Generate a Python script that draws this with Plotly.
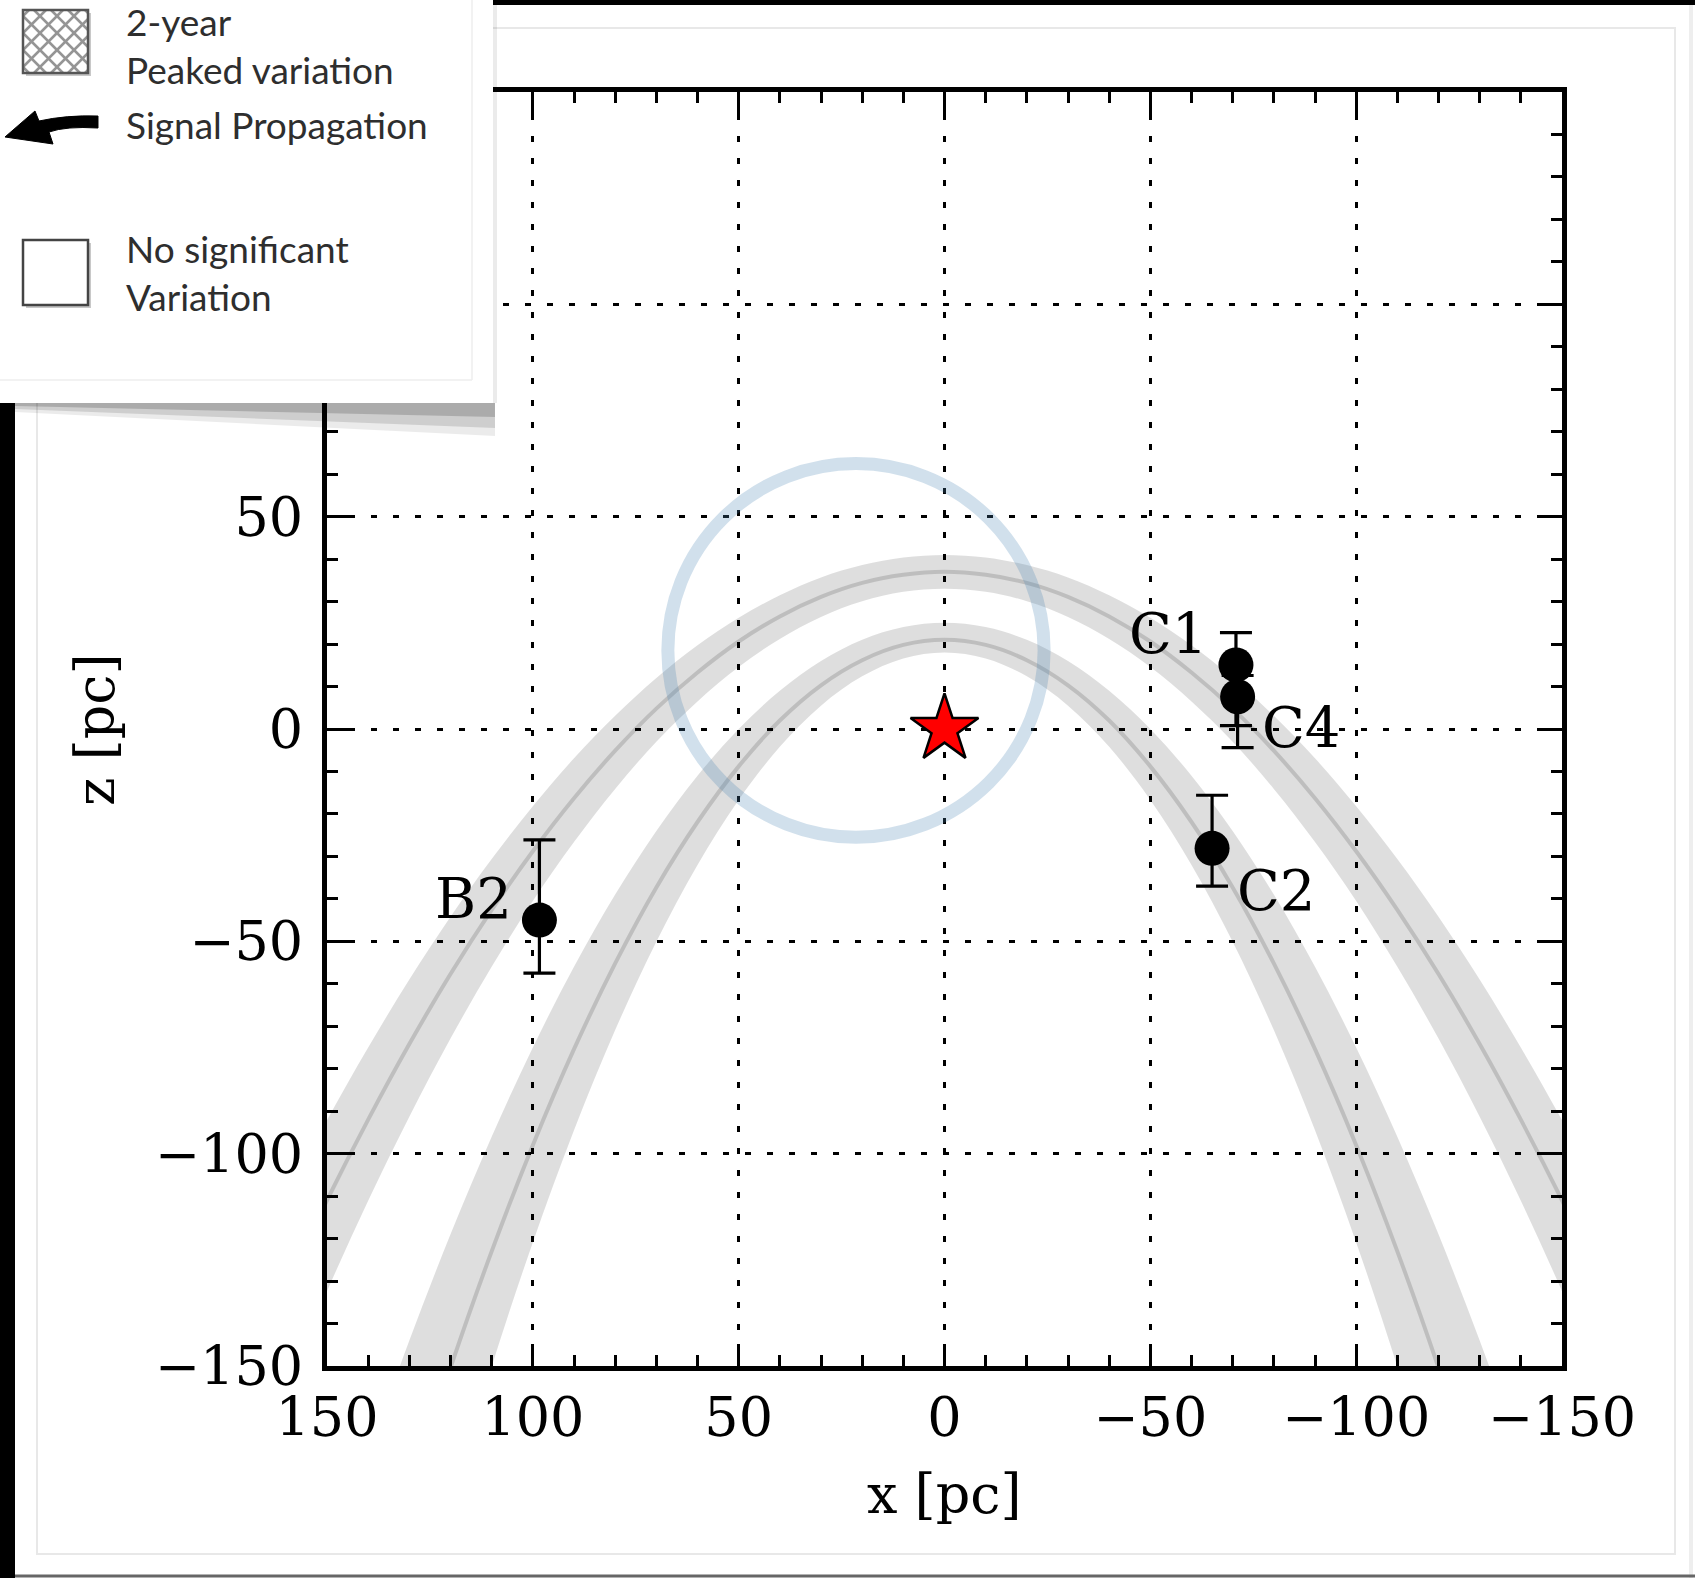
import plotly.graph_objects as go

# ---------------- data ----------------
x_grid = [-160, -150, -140, -130, -120, -110, -100, -90, -80, -70, -60, -50, -40, -30, -20, -10,
          0, 10, 20, 30, 40, 50, 60, 70, 80, 90, 100, 110, 120, 130, 140, 150, 160]

# outer (upper) propagation band: outer edge, centre line, inner edge
upper_outer = [-110.5, -92.1, -75.0, -59.0, -44.2, -30.6, -18.2, -6.9, 3.1, 12.0, 19.7, 26.2, 31.5, 35.7, 38.6, 40.4,
               41.0, 40.4, 38.6, 35.7, 31.5, 26.2, 19.7, 12.0, 3.1, -6.9, -18.2, -30.6, -44.2, -59.0, -75.0, -92.1, -110.5]
upper_center = [-131.4, -111.0, -92.0, -74.2, -57.7, -42.6, -28.8, -16.3, -5.1, 4.8, 13.3, 20.6, 26.5, 31.1, 34.4, 36.3,
                37.0, 36.3, 34.4, 31.1, 26.5, 20.6, 13.3, 4.8, -5.1, -16.3, -28.8, -42.6, -57.7, -74.2, -92.0, -111.0, -131.4]
upper_inner = [-155.2, -132.4, -111.1, -91.3, -72.9, -56.0, -40.5, -26.6, -14.1, -3.0, 6.5, 14.6, 21.2, 26.4, 30.1, 32.3,
               33.0, 32.3, 30.1, 26.4, 21.2, 14.6, 6.5, -3.0, -14.1, -26.6, -40.5, -56.0, -72.9, -91.3, -111.1, -132.4, -155.2]

# inner (lower) propagation band
lower_outer = [-231.0, -200.0, -171.0, -144.0, -119.0, -96.0, -75.0, -56.0, -39.0, -24.0, -11.0, 0.0, 9.0, 16.0, 21.0, 24.0,
               25.0, 24.0, 21.0, 16.0, 9.0, 0.0, -11.0, -24.0, -39.0, -56.0, -75.0, -96.0, -119.0, -144.0, -171.0, -200.0, -231.0]
lower_center = [-283.8, -246.9, -212.3, -180.2, -150.4, -123.0, -98.0, -75.4, -55.2, -37.3, -21.9, -8.8, 2.0, 10.3, 16.2, 19.8,
                21.0, 19.8, 16.2, 10.3, 2.0, -8.8, -21.9, -37.3, -55.2, -75.4, -98.0, -123.0, -150.4, -180.2, -212.3, -246.9, -283.8]
lower_inner = [-337.6, -294.5, -254.2, -216.7, -182.0, -150.1, -120.9, -94.5, -70.9, -50.1, -32.0, -16.7, -4.2, 5.5, 12.4, 16.6,
               18.0, 16.6, 12.4, 5.5, -4.2, -16.7, -32.0, -50.1, -70.9, -94.5, -120.9, -150.1, -182.0, -216.7, -254.2, -294.5, -337.6]

# clouds with error bars
cloud_names = ["B2", "C1", "C4", "C2"]
cloud_x = [98.4, -70.8, -71.2, -65.0]
cloud_z = [-45.0, 15.1, 7.6, -28.1]
cloud_err_plus = [18.9, 7.6, 5.0, 12.5]
cloud_err_minus = [12.5, 14.3, 12.0, 8.9]
label_x = [114.3, -54.3, -86.7, -80.6]
label_z = [-39.9, 22.6, 0.4, -38.1]

# star at origin
star_x = [0]
star_z = [0]

# circle
circle_cx, circle_cz = 21.5, 18.5
circle_rx, circle_rz = 45.7, 44.0

tick_vals = [150, 100, 50, 0, -50, -100, -150]
tick_text = ["150", "100", "50", "0", "\u221250", "\u2212100", "\u2212150"]

legend_texts = ["2-year<br>Peaked variation", "Signal Propagation", "No significant<br>Variation"]

# ---------------- layout geometry (pixels) ----------------
W, H = 1695, 1578
PL, PR, PT, PB = 327, 1562, 92, 1366


def pp(px, py):
    return (px - PL) / (PR - PL), (PB - py) / (PB - PT)


def path_from(points):
    s = ""
    for i, (px, py) in enumerate(points):
        x, y = pp(px, py)
        s += ("M" if i == 0 else "L") + f"{x:.5f},{y:.5f} "
    return s + "Z"


fig = go.Figure()

band_fill = "rgba(0,0,0,0.13)"
center_col = "rgba(0,0,0,0.14)"
for outer, center, inner in [(upper_outer, upper_center, upper_inner),
                             (lower_outer, lower_center, lower_inner)]:
    fig.add_trace(go.Scatter(x=x_grid + x_grid[::-1], y=outer + inner[::-1], fill="toself",
                             fillcolor=band_fill, mode="lines", line=dict(width=0, shape="spline"),
                             hoverinfo="skip"))
    fig.add_trace(go.Scatter(x=x_grid, y=center, mode="lines",
                             line=dict(color=center_col, width=4, shape="spline"), hoverinfo="skip"))

fig.add_trace(go.Scatter(x=cloud_x, y=cloud_z, mode="markers", text=cloud_names,
                         marker=dict(size=35, color="black"),
                         error_y=dict(type="data", symmetric=False, array=cloud_err_plus,
                                      arrayminus=cloud_err_minus, color="black", thickness=3.2, width=16)))

fig.add_trace(go.Scatter(x=star_x, y=star_z, mode="markers",
                         marker=dict(symbol="star", size=51, color="red", line=dict(color="black", width=2.5))))

shapes = []
shapes.append(dict(type="circle", xref="x", yref="y",
                   x0=circle_cx - circle_rx, x1=circle_cx + circle_rx,
                   y0=circle_cz - circle_rz, y1=circle_cz + circle_rz,
                   line=dict(color="rgba(70,130,180,0.25)", width=13), layer="above"))


def rect(x0, y0, x1, y1, fill=None, line_color=None, lw=0):
    a = pp(x0, y0)
    b = pp(x1, y1)
    d = dict(type="rect", xref="paper", yref="paper", x0=a[0], y0=a[1], x1=b[0], y1=b[1], layer="above")
    d["fillcolor"] = fill if fill else "rgba(0,0,0,0)"
    d["line"] = dict(color=line_color if line_color else "rgba(0,0,0,0)", width=lw)
    return d


def seg(x0, y0, x1, y1, color, lw):
    a = pp(x0, y0)
    b = pp(x1, y1)
    return dict(type="line", xref="paper", yref="paper", x0=a[0], y0=a[1], x1=b[0], y1=b[1],
                line=dict(color=color, width=lw), layer="above")


# slide frame decorations
shapes.append(rect(37, 28, 1675, 1554, line_color="#e8e8e8", lw=2))
shapes.append(seg(1691, 0, 1691, 1578, "#eeeeee", 4))
shapes.append(seg(0, 1576, 1695, 1576, "#666666", 3))
shapes.append(rect(493, 0, 1695, 5, fill="black"))
shapes.append(rect(0, 403, 15, 1578, fill="black"))

# legend shadow
for pts, col in [([(15, 403), (495, 403), (495, 436), (15, 412)], "rgba(0,0,0,0.08)"),
                 ([(15, 403), (495, 403), (495, 428), (15, 409)], "rgba(0,0,0,0.12)"),
                 ([(15, 403), (495, 403), (495, 417), (15, 406)], "rgba(0,0,0,0.17)")]:
    shapes.append(dict(type="path", xref="paper", yref="paper", path=path_from(pts),
                       fillcolor=col, line=dict(width=0), layer="above"))
shapes.append(rect(493, 0, 497, 403, fill="rgba(0,0,0,0.08)"))

# legend box
shapes.append(rect(0, 0, 493, 403, fill="white"))
shapes.append(seg(472, 0, 472, 380, "#eeeeee", 1.5))
shapes.append(seg(0, 380, 472, 380, "#eeeeee", 1.5))

# hatched square
hx0, hy0, hx1, hy1 = 23, 10, 88, 73
shapes.append(rect(hx0 + 3, hy0 + 3, hx1 + 3, hy1 + 3, fill="#c8c8c8"))
shapes.append(rect(hx0, hy0, hx1, hy1, fill="white"))
step = 17
d = hx0 - hy1 + 6
while d <= hx1 - hy0:
    xa, xb = max(hx0, hy0 + d), min(hx1, hy1 + d)
    if xb > xa:
        shapes.append(seg(xa, xa - d, xb, xb - d, "#959595", 2.5))
    d += step
s = hx0 + hy0 + 6
while s <= hx1 + hy1:
    xa, xb = max(hx0, s - hy1), min(hx1, s - hy0)
    if xb > xa:
        shapes.append(seg(xa, s - xa, xb, s - xb, "#959595", 2.5))
    s += step
shapes.append(rect(hx0, hy0, hx1, hy1, line_color="#555555", lw=2.5))

# empty square
shapes.append(rect(26, 243, 91, 308, fill="#c8c8c8"))
shapes.append(rect(23, 240, 88, 305, fill="white", line_color="#444444", lw=2.5))

# arrow
p = [pp(5, 137), pp(35, 111), pp(39, 121), pp(66, 115), pp(98, 116), pp(98, 128), pp(66, 126), pp(49, 132), pp(53, 144)]
arrow_path = (f"M{p[0][0]:.5f},{p[0][1]:.5f} L{p[1][0]:.5f},{p[1][1]:.5f} L{p[2][0]:.5f},{p[2][1]:.5f} "
              f"Q{p[3][0]:.5f},{p[3][1]:.5f} {p[4][0]:.5f},{p[4][1]:.5f} L{p[5][0]:.5f},{p[5][1]:.5f} "
              f"Q{p[6][0]:.5f},{p[6][1]:.5f} {p[7][0]:.5f},{p[7][1]:.5f} L{p[8][0]:.5f},{p[8][1]:.5f} Z")
shapes.append(dict(type="path", xref="paper", yref="paper", path=arrow_path, fillcolor="black",
                   line=dict(color="black", width=1), layer="above"))

annotations = []
for name, lx, lz in zip(cloud_names, label_x, label_z):
    annotations.append(dict(x=lx, y=lz, xref="x", yref="y", text=name, showarrow=False,
                            xanchor="center", yanchor="middle",
                            font=dict(family="DejaVu Serif", size=56, color="black")))

for txt, cy in zip(legend_texts, [45, 124, 272]):
    x, y = pp(124, cy)
    annotations.append(dict(x=x, y=y, xref="paper", yref="paper", text=txt, showarrow=False,
                            xanchor="left", yanchor="middle", align="left",
                            font=dict(family="Lato", size=37, color="#2e2e2e")))

tx, ty = pp(944, 1494)
annotations.append(dict(x=tx, y=ty, xref="paper", yref="paper", text="x [pc]", showarrow=False,
                        xanchor="center", yanchor="middle",
                        font=dict(family="DejaVu Serif", size=54, color="black")))
tx, ty = pp(95, 730)
annotations.append(dict(x=tx, y=ty, xref="paper", yref="paper", text="z [pc]", showarrow=False,
                        textangle=-90, xanchor="center", yanchor="middle",
                        font=dict(family="DejaVu Serif", size=54, color="black")))

axis_common = dict(showline=True, linecolor="black", linewidth=5, mirror="ticks",
                   ticks="inside", ticklen=22, tickwidth=3, tickcolor="black",
                   tickmode="array", tickvals=tick_vals, ticktext=tick_text,
                   showgrid=True, gridcolor="black", gridwidth=2.5, griddash="6px,16px",
                   zeroline=False, automargin=False,
                   tickfont=dict(family="DejaVu Serif", size=54, color="black"),
                   minor=dict(ticks="inside", ticklen=11, tickwidth=3, tickcolor="black",
                              tickmode="linear", tick0=0, dtick=10, showgrid=False))

fig.update_xaxes(range=[150, -150], **axis_common)
fig.update_yaxes(range=[-150, 150], ticklabelstandoff=8, **axis_common)

fig.update_layout(width=W, height=H, margin=dict(l=PL, r=W - PR, t=PT, b=H - PB, autoexpand=False),
                  paper_bgcolor="white", plot_bgcolor="white", showlegend=False,
                  shapes=shapes, annotations=annotations)

fig.write_html("out.html", config={"displayModeBar": False},
               post_script="document.body.style.margin='0';document.body.style.overflow='hidden';")
